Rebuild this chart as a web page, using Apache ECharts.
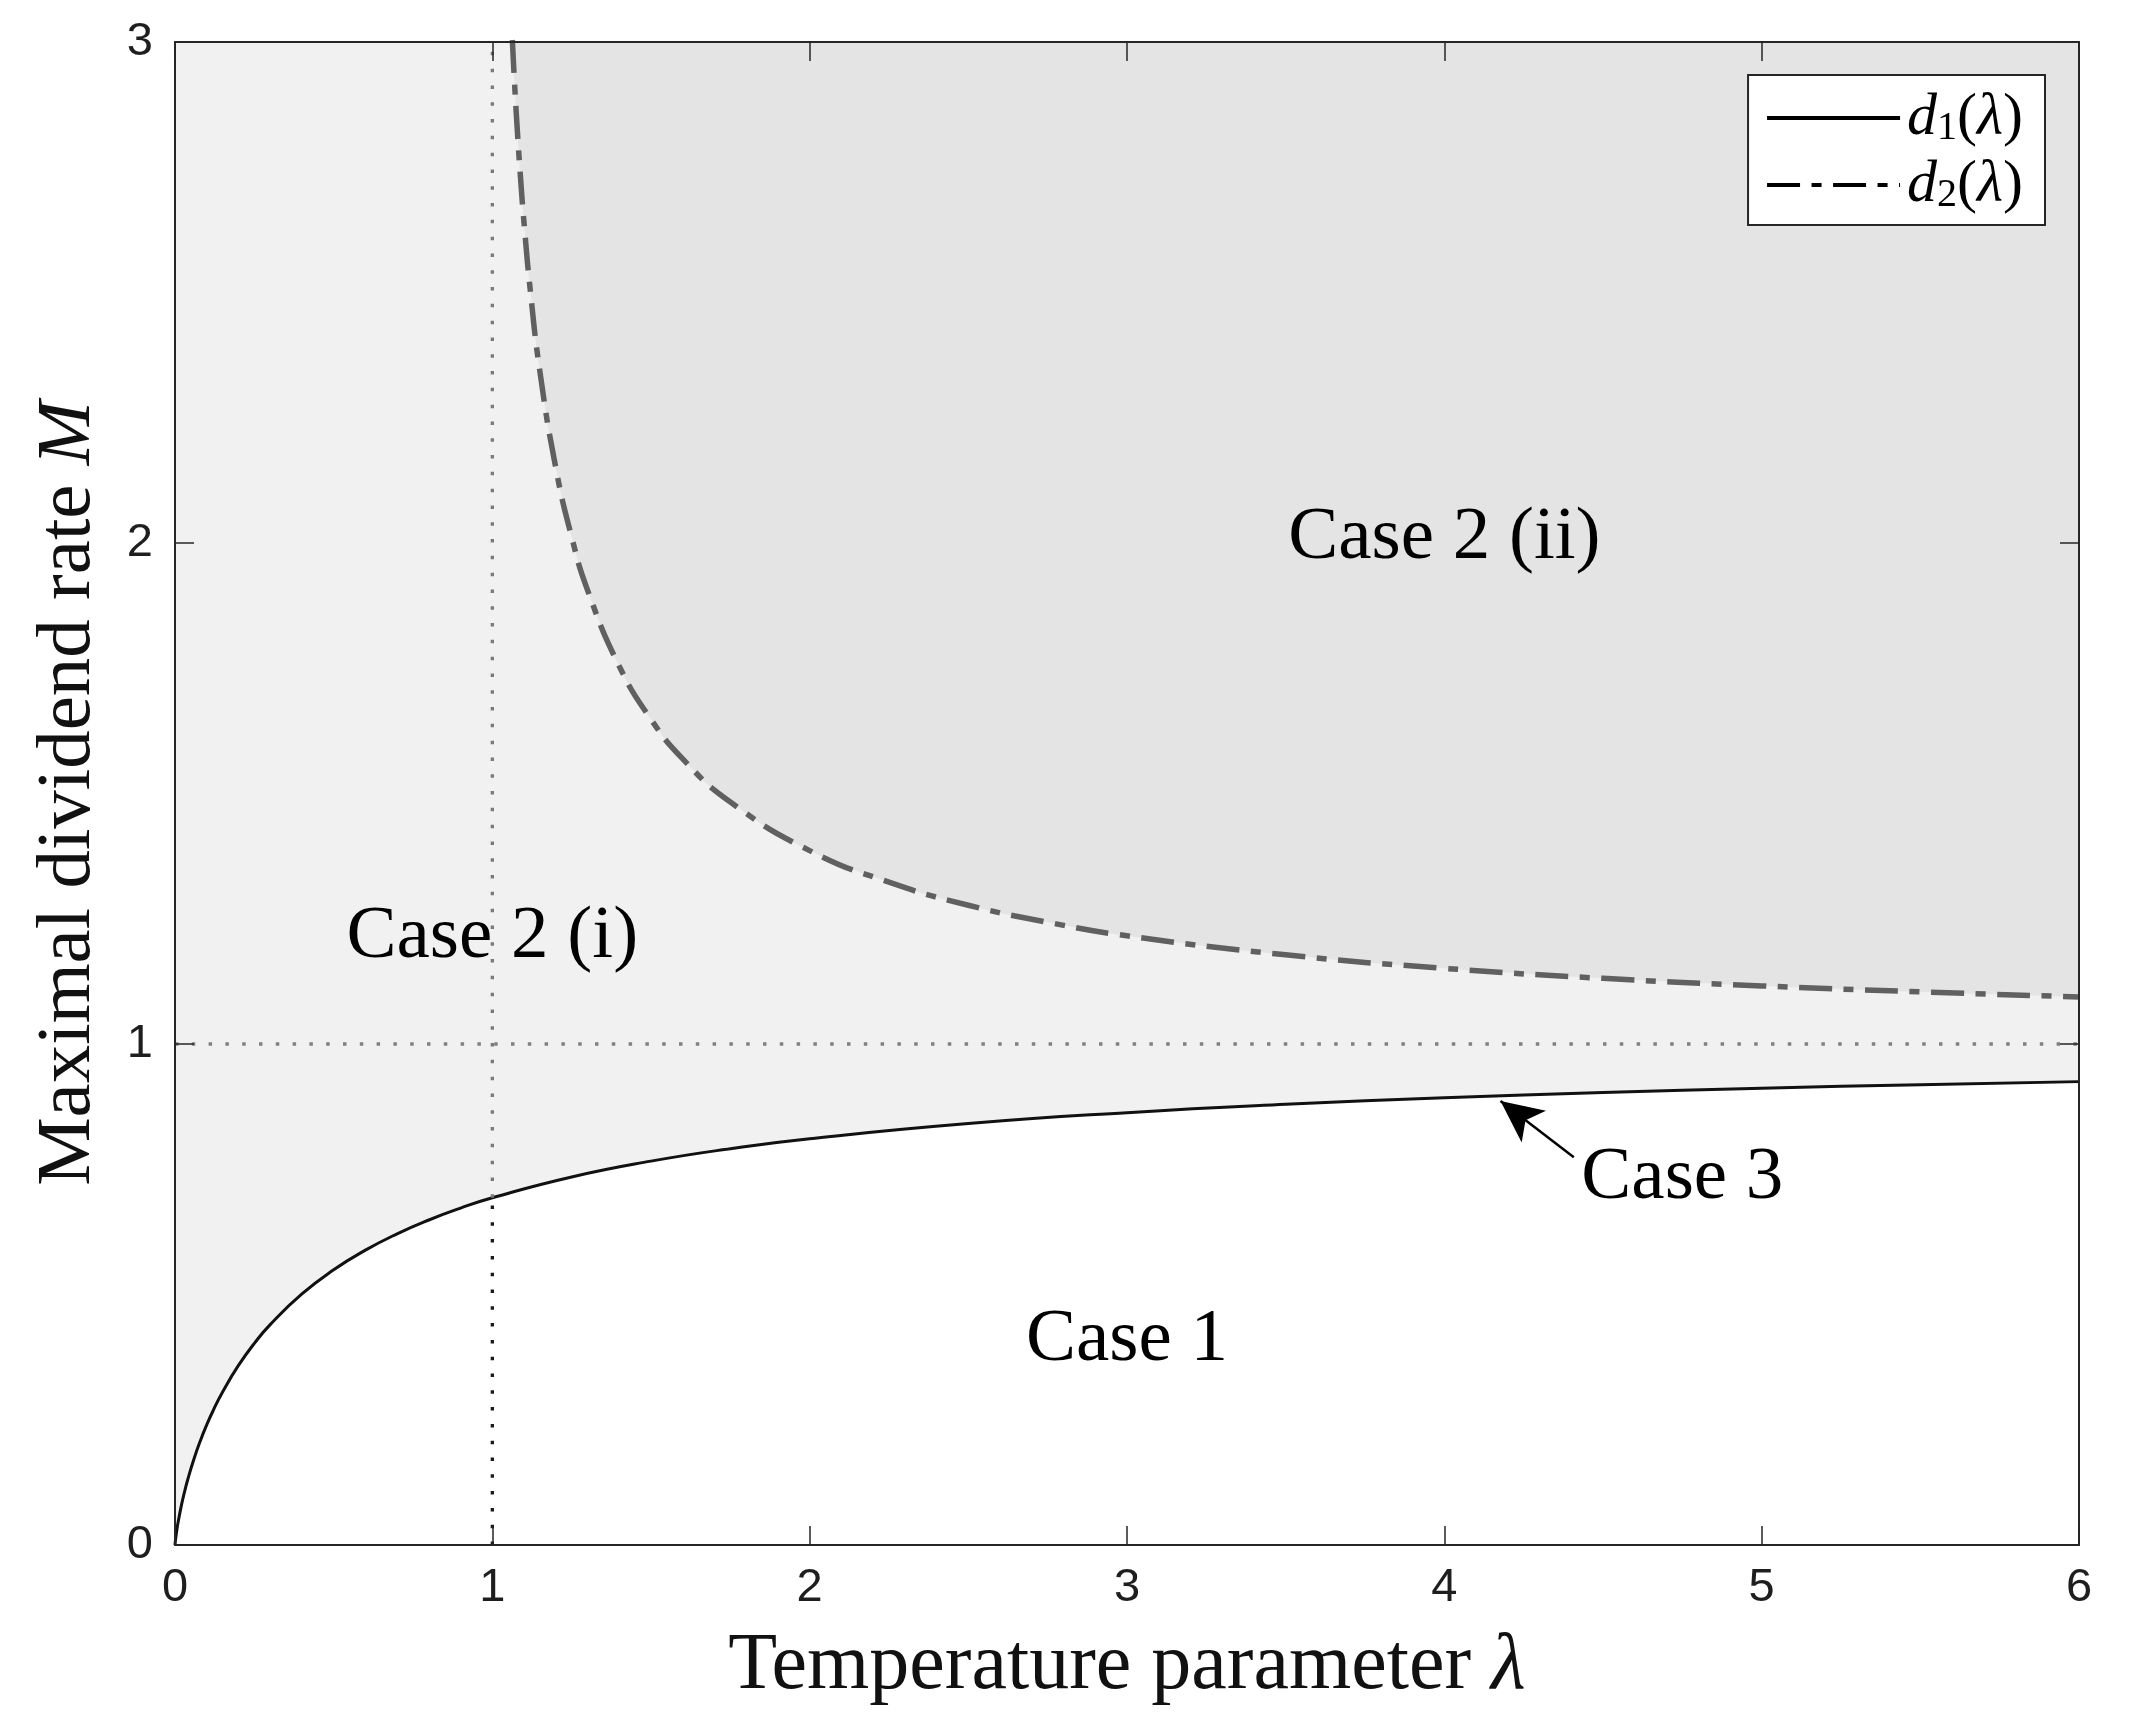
<!DOCTYPE html>
<html>
<head>
<meta charset="utf-8">
<script src="https://cdn.jsdelivr.net/npm/echarts@6/dist/echarts.min.js"></script>
<style>
html,body{margin:0;padding:0;background:#fff;}
#chart{width:2130px;height:1727px;}
</style>
</head>
<body>
<div id="chart"></div>
<script>
// ---- data ----
const xTicks = [0, 1, 2, 3, 4, 5, 6];
const yTicks = [0, 1, 2, 3];

const lambda1 = [0, 0.001, 0.002, 0.005, 0.01, 0.02, 0.03, 0.04, 0.06, 0.08, 0.1, 0.12, 0.15, 0.2, 0.25, 0.3, 0.4, 0.5, 0.6, 0.7, 0.8, 0.9, 1, 1.25, 1.5, 1.75, 2, 2.5, 3, 3.5, 4, 4.5, 5, 5.5, 6];
const d1Values = [0, 0.0069, 0.0124, 0.0265, 0.0462, 0.0786, 0.1061, 0.1303, 0.1723, 0.2082, 0.2398, 0.2680, 0.3055, 0.3584, 0.4024, 0.4399, 0.5011, 0.5493, 0.5885, 0.6211, 0.6487, 0.6725, 0.6931, 0.7347, 0.7662, 0.7910, 0.8109, 0.8412, 0.8630, 0.8796, 0.8926, 0.9030, 0.9116, 0.9189, 0.9249];

const lambda2 = [1.063, 1.07, 1.08, 1.09, 1.1, 1.12, 1.15, 1.2, 1.25, 1.3, 1.4, 1.5, 1.6, 1.75, 2, 2.25, 2.5, 2.75, 3, 3.5, 4, 4.5, 5, 5.5, 6];
const d2Values = [3.004, 2.918, 2.811, 2.719, 2.638, 2.502, 2.342, 2.150, 2.012, 1.906, 1.754, 1.648, 1.569, 1.483, 1.386, 1.323, 1.277, 1.243, 1.216, 1.178, 1.151, 1.131, 1.116, 1.104, 1.094];

const seriesNames = ['d1(λ)', 'd2(λ)'];

// reference lines
const vLineX = [1, 1];
const vLineLowY = [0, 0.6931];
const vLineHighY = [0.6931, 3];
const hLineX = [0, 6];
const hLineY = [1, 1];

// region labels
const caseNames = ['Case 2 (ii)', 'Case 2 (i)', 'Case 1', 'Case 3'];
const caseX = [4.0, 1.0, 3.0, 4.75];
const caseY = [2.01, 1.213, 0.408, 0.731];

// arrow for Case 3 (tail -> head)
const arrowFrom = [4.408, 0.774];
const arrowTo = [4.177, 0.886];

// ---- build ----
const zip = (xs, ys) => xs.map((x, i) => [x, ys[i]]);
const serif = 'Liberation Serif';
const sans = 'Liberation Sans';
const axisColor = '#262626';

const xMin = xTicks[0], xMax = xTicks[xTicks.length - 1], xInt = xTicks[1] - xTicks[0];
const yMin = yTicks[0], yMax = yTicks[yTicks.length - 1], yInt = yTicks[1] - yTicks[0];

function mkX(primary) {
  return {
    type: 'value', min: xMin, max: xMax, interval: xInt,
    position: primary ? 'bottom' : 'top', z: 10,
    axisLine: { show: true, onZero: false, lineStyle: { color: axisColor, width: 2 } },
    axisTick: { show: true, inside: true, length: 19, lineStyle: { color: axisColor, width: 1.5 } },
    axisLabel: { show: primary, fontSize: 47, fontFamily: sans, color: '#1e1e1e', margin: 20 },
    splitLine: { show: false },
    name: primary ? 'Temperature parameter {l|λ}' : '',
    nameLocation: 'middle', nameGap: 82,
    nameTextStyle: { fontSize: 80, fontFamily: serif, color: '#111',
      rich: { l: { fontSize: 80, fontFamily: serif, fontStyle: 'italic', color: '#111' } } }
  };
}
function mkY(primary) {
  return {
    type: 'value', min: yMin, max: yMax, interval: yInt,
    position: primary ? 'left' : 'right', z: 10,
    axisLine: { show: true, onZero: false, lineStyle: { color: axisColor, width: 2 } },
    axisTick: { show: true, inside: true, length: 19, lineStyle: { color: axisColor, width: 1.5 } },
    axisLabel: { show: primary, fontSize: 47, fontFamily: sans, color: '#1e1e1e', margin: 22 },
    splitLine: { show: false },
    name: primary ? 'Maximal dividend rate {m|M}' : '',
    nameLocation: 'middle', nameGap: 68,
    nameTextStyle: { fontSize: 77, fontFamily: serif, color: '#111',
      rich: { m: { fontSize: 77, fontFamily: serif, fontStyle: 'italic', color: '#111' } } }
  };
}

const dotted = [3.5, 13.3];

const option = {
  animation: false,
  backgroundColor: '#ffffff',
  grid: { left: 175, right: 51, top: 42, bottom: 182, show: true, backgroundColor: '#f1f1f1', borderWidth: 0 },
  xAxis: [mkX(true), mkX(false)],
  yAxis: [mkY(true), mkY(false)],
  legend: {
    data: seriesNames,
    orient: 'vertical', right: 85, top: 75,
    backgroundColor: '#ffffff', borderColor: axisColor, borderWidth: 2,
    padding: [13, 22, 10, 17], itemGap: 7,
    itemWidth: 133, itemHeight: 20,
    itemStyle: { opacity: 0 },
    lineStyle: { color: '#000', width: 4 },
    formatter: function (name) {
      return '{i|d}{s|' + name.charAt(1) + '}{n|(}{i|λ}{n|)}';
    },
    textStyle: {
      fontFamily: serif, fontSize: 60, color: '#000', padding: [0, 0, 0, 2],
      rich: {
        i: { fontFamily: serif, fontSize: 60, fontStyle: 'italic', lineHeight: 60, color: '#000' },
        n: { fontFamily: serif, fontSize: 60, lineHeight: 60, color: '#000' },
        s: { fontFamily: serif, fontSize: 40, lineHeight: 40, verticalAlign: 'bottom', color: '#000' }
      }
    }
  },
  series: [
    {
      name: seriesNames[0], type: 'line', data: zip(lambda1, d1Values),
      symbol: 'none', smooth: 0.5, z: 3,
      lineStyle: { color: '#111111', width: 3 },
      itemStyle: { color: '#111111' },
      areaStyle: { color: '#ffffff', opacity: 1, origin: 'start' },
      markLine: {
        silent: true, animation: false,
        label: { show: false },
        lineStyle: { color: '#000', width: 2.5, type: 'solid' },
        data: [[
          { coord: arrowFrom, symbol: 'none' },
          { coord: arrowTo, symbol: 'arrow', symbolSize: [30, 42] }
        ]]
      }
    },
    {
      name: seriesNames[1], type: 'line', data: zip(lambda2, d2Values),
      symbol: 'none', smooth: 0.5, z: 3,
      lineStyle: { color: '#606060', width: 5.5, type: [33, 11.5, 10, 11.5], cap: 'butt' },
      itemStyle: { color: '#606060' },
      areaStyle: { color: '#e4e4e4', opacity: 1, origin: 'end' }
    },
    {
      name: 'vlow', type: 'line', data: zip(vLineX, vLineLowY), symbol: 'none', z: 4,
      lineStyle: { color: '#1a1a1a', width: 3.3, type: dotted }
    },
    {
      name: 'vhigh', type: 'line', data: zip(vLineX, vLineHighY), symbol: 'none', z: 4,
      lineStyle: { color: '#7a7a7a', width: 3.3, type: dotted }
    },
    {
      name: 'hline', type: 'line', data: zip(hLineX, hLineY), symbol: 'none', z: 4,
      lineStyle: { color: '#808080', width: 3.3, type: dotted }
    },
    {
      name: 'cases', type: 'scatter', symbolSize: 0, z: 6,
      itemStyle: { opacity: 1 },
      data: caseNames.map((n, i) => ({ name: n, value: [caseX[i], caseY[i]] })),
      label: {
        show: true, position: 'inside', formatter: '{b}',
        fontFamily: serif, fontSize: 75, color: '#000', align: 'center', verticalAlign: 'middle'
      }
    }
  ]
};

const chart = echarts.init(document.getElementById('chart'), null, { renderer: 'canvas' });
chart.setOption(option);
</script>
</body>
</html>
